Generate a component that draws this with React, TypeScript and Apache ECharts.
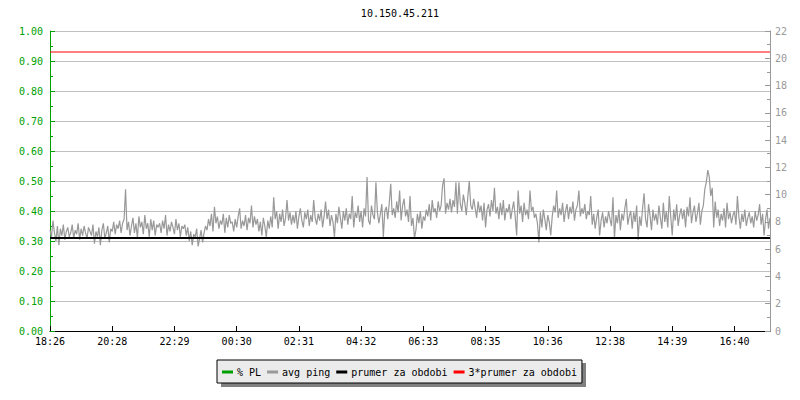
import React, { useEffect, useRef } from "react";
import * as echarts from "echarts";

const TITLE = "10.150.45.211";
const TIME_LABELS = ["18:26", "20:28", "22:29", "00:30", "02:31", "04:32", "06:33", "08:35", "10:36", "12:38", "14:39", "16:40"];
const POINTS_PER_LABEL = 42;

// avg ping (ms, right axis)
const AVG_PING = [
  7.4, 6.9, 8.1, 7.2, 6.6, 7.7, 6.3, 7.5, 7.0, 7.8, 6.7, 7.3,
  7.6, 6.9, 7.2, 7.8, 6.8, 7.4, 7.1, 7.9, 6.7, 7.5, 7.0, 7.7, 7.2, 6.8, 7.6, 7.3,
  7.0, 7.8, 6.4, 7.3, 6.9, 7.6, 6.3, 7.4, 7.9, 6.8, 7.2, 7.7, 6.5, 7.5,
  7.3, 8.0, 7.1, 7.8, 7.5, 8.1, 7.2, 7.9, 8.2, 10.4, 7.4, 8.0, 7.0, 7.7,
  8.3, 7.2, 7.9, 6.8, 8.4, 7.6, 8.0, 7.1, 8.5, 7.5, 7.9, 6.9, 8.2, 7.4, 8.1, 7.0, 7.8, 7.6,
  7.9, 7.2, 8.1, 7.5, 8.5, 7.0, 7.8, 7.3, 8.0, 7.6, 7.1, 8.2, 7.4, 7.9, 6.9, 7.7,
  7.5, 7.8, 7.0, 7.6, 6.6, 7.3, 6.3, 7.1, 6.9, 7.5, 6.2, 6.8, 7.4, 6.5, 7.2, 7.7,
  7.4, 8.2, 7.7, 8.6, 7.3, 9.1, 7.9, 8.4, 7.5, 8.1, 7.8, 8.6, 7.2, 8.3, 7.6, 8.5, 7.9,
  8.0, 7.3, 8.2, 7.6, 8.4, 9.0, 7.5, 8.1, 7.7, 8.5, 7.4, 8.3, 7.9, 9.2, 7.6, 8.4, 7.8, 8.2, 7.3, 8.0, 7.0, 8.3, 7.7, 6.9, 8.1, 7.5,
  8.4, 7.6, 9.8, 8.2, 8.8, 7.5, 8.6, 8.0, 8.9, 7.7, 8.3, 9.6, 8.1, 8.7, 7.8, 8.5,
  7.9, 8.8, 7.5, 8.4, 9.0, 8.1, 7.6, 8.7, 8.2, 8.9, 7.7, 8.5, 8.0, 9.6, 8.3, 7.8, 8.6, 8.1, 8.9, 7.6, 8.4, 9.5,
  8.2, 8.9, 7.7, 8.5, 8.0, 6.9, 8.6, 7.9, 9.1, 8.3, 7.5, 8.8, 8.1, 9.0, 7.8, 8.6, 8.2, 9.9, 7.6, 8.7, 8.3, 9.2,
  8.0, 8.8, 7.6, 9.0, 8.4, 11.3, 8.1, 7.8, 9.2, 8.5, 8.2, 10.9, 8.7, 7.9,
  8.6, 9.3, 6.9, 8.8, 9.1, 8.2, 9.4, 10.8, 8.5, 9.0, 8.3, 9.5, 8.7, 10.3, 8.1, 9.2, 9.7, 8.4,
  8.9, 8.0, 9.9, 7.7, 8.3, 6.8, 7.4, 8.6, 7.9, 8.8, 7.5, 8.4, 8.1, 8.9,
  8.4, 9.3, 8.1, 9.6, 8.7, 9.0, 8.3, 9.5, 8.8, 9.2, 10.7, 11.2, 8.6, 9.4, 8.9, 9.7,
  8.7, 9.6, 9.1, 10.9, 8.6, 10.9, 9.3, 8.8, 10.0, 9.4, 8.5, 9.8, 11.0, 9.2, 8.9, 9.7,
  9.0, 8.3, 9.5, 8.7, 9.2, 8.1, 9.4, 7.6, 8.9, 9.3, 8.4, 9.6, 8.8, 10.5, 8.6, 9.1, 8.2, 9.4,
  8.5, 9.6, 8.1, 9.0, 8.7, 9.3, 8.2, 8.9, 9.5, 8.4, 7.0,
  10.3, 8.6, 9.2, 8.0, 9.4, 8.5, 8.9, 8.2, 10.3, 8.8, 9.1, 8.3,
  8.6, 7.9, 6.5, 8.7, 7.6, 8.9, 8.2, 7.4, 8.5, 8.0, 7.0,
  8.4, 9.2, 8.7, 10.3, 8.3, 9.0, 8.5, 9.4, 8.0, 8.8, 9.3, 8.2, 9.1, 8.6, 9.5, 8.1, 8.9, 9.2, 10.3, 8.4, 9.0, 8.6, 9.3, 8.2, 8.8,
  8.5, 9.9, 7.8, 8.6, 7.5, 8.3, 8.9, 7.0, 8.1, 8.7, 7.6, 8.4, 7.9, 8.8,
  8.2, 7.7, 9.8, 6.8, 8.5, 7.9, 8.9, 7.4, 8.6, 8.1, 9.0, 9.7, 7.8, 8.4, 8.8,
  7.5, 8.7, 8.0, 9.2, 6.7, 8.4, 7.7, 9.0, 10.1, 8.2, 7.6, 9.3, 8.5, 7.4, 8.9, 8.1,
  8.6, 7.8, 9.2, 8.3, 7.5, 9.4, 8.0, 8.8, 7.6, 9.9, 8.4, 7.0, 8.9, 8.1, 9.3, 7.7, 8.5, 9.0,
  8.2, 8.9, 7.6, 9.1, 8.4, 9.8, 7.9, 8.7, 9.2, 8.0, 8.6, 9.4, 7.8, 8.8,
  9.2, 10.4, 10.9, 11.8, 11.3, 9.9, 10.5, 7.6, 9.5,
  8.3, 8.9, 7.7, 8.6, 8.1, 9.0, 7.6, 9.4, 8.2, 8.7, 7.9, 8.5, 8.8, 7.8, 9.9, 8.4, 7.5, 8.6, 8.0, 8.9, 7.7, 8.3,
  8.7, 7.9, 8.4, 7.6, 8.8, 8.1, 8.5, 9.3, 7.8, 8.6, 7.0, 8.2, 8.9, 7.5, 8.3,
];

// % packet loss (left axis): no loss in the period
const PACKET_LOSS: number[] = [];

const PRUMER = 6.82; // average for the period (ms)
const PRUMER_3X = 20.46; // 3 * average

const SERIES_NAMES = ["% PL", "avg ping", "prumer za obdobi", "3*prumer za obdobi"];

const FONT = "'DejaVu Sans Mono', 'Liberation Mono', monospace";

export default function App() {
  const ref = useRef<HTMLDivElement>(null);

  useEffect(() => {
    if (!ref.current) return;
    const chart = echarts.init(ref.current, undefined, { renderer: "svg" });
    const cats = AVG_PING.map((_, i) => String(i));
    const first = cats[0];
    const last = cats[cats.length - 1];

    chart.setOption({
      animation: false,
      backgroundColor: "#ffffff",
      title: {
        text: TITLE,
        left: "center",
        top: 3,
        textStyle: { fontFamily: FONT, fontSize: 10, fontWeight: "normal", color: "#000" },
      },
      grid: { left: 50, right: 30, top: 31, bottom: 69, containLabel: false },
      legend: {
        data: SERIES_NAMES,
        bottom: 17,
        left: 217,
        icon: "rect",
        itemWidth: 11,
        itemHeight: 3,
        itemGap: 6,
        padding: [7, 5, 6, 5],
        backgroundColor: "#ebebeb",
        borderColor: "#000",
        borderWidth: 1,
        z: 10,
        textStyle: { fontFamily: FONT, fontSize: 10, color: "#000", padding: [0, 0, 0, -1] },
      },
      graphic: [
        { type: "rect", z: 1, shape: { x: 221, y: 363, width: 365, height: 24 }, style: { fill: "#808080" } },
      ],
      xAxis: {
        type: "category",
        data: cats,
        boundaryGap: false,
        axisLine: { show: true, lineStyle: { color: "#000", width: 1 } },
        axisTick: { show: true, inside: true, length: 5, interval: POINTS_PER_LABEL - 1, lineStyle: { color: "#000" } },
        axisLabel: {
          interval: POINTS_PER_LABEL - 1,
          color: "#000",
          fontFamily: FONT,
          fontSize: 10,
          margin: 5,
          formatter: (_v: string, idx: number) => TIME_LABELS[Math.round(idx / POINTS_PER_LABEL)] ?? "",
        },
        splitLine: { show: false },
      },
      yAxis: [
        {
          type: "value",
          position: "left",
          min: 0,
          max: 1,
          interval: 0.1,
          axisLine: { show: true, lineStyle: { color: "#00a000" } },
          axisTick: { show: true, inside: true, length: 5, lineStyle: { color: "#00a000" } },
          minorTick: { show: true, splitNumber: 2, length: 3, lineStyle: { color: "#00a000" } },
          axisLabel: { color: "#00a000", fontFamily: FONT, fontSize: 10, margin: 7, formatter: (v: number) => v.toFixed(2) },
          splitLine: { show: true, lineStyle: { color: "#c0c0c0", width: 1 } },
        },
        {
          type: "value",
          position: "right",
          min: 0,
          max: 22,
          interval: 2,
          axisLine: { show: true, lineStyle: { color: "#999" } },
          axisTick: { show: true, inside: true, length: 5, lineStyle: { color: "#999" } },
          minorTick: { show: true, splitNumber: 2, length: 3, lineStyle: { color: "#999" } },
          axisLabel: { color: "#999", fontFamily: FONT, fontSize: 10, margin: 5 },
          splitLine: { show: false },
        },
      ],
      series: [
        {
          name: SERIES_NAMES[0],
          type: "line",
          yAxisIndex: 0,
          data: PACKET_LOSS,
          symbol: "none",
          color: "#00a000",
          lineStyle: { width: 1 },
        },
        {
          name: SERIES_NAMES[1],
          type: "line",
          yAxisIndex: 1,
          data: AVG_PING,
          symbol: "none",
          color: "#999999",
          lineStyle: { width: 1.2 },
          z: 2,
        },
        {
          name: SERIES_NAMES[2],
          type: "line",
          yAxisIndex: 1,
          data: [[first, PRUMER], [last, PRUMER]],
          symbol: "none",
          color: "#000000",
          lineStyle: { width: 2 },
          z: 3,
        },
        {
          name: SERIES_NAMES[3],
          type: "line",
          yAxisIndex: 1,
          data: [[first, PRUMER_3X], [last, PRUMER_3X]],
          symbol: "none",
          color: "#ff0000",
          lineStyle: { width: 1 },
          z: 4,
        },
      ],
    });

    return () => chart.dispose();
  }, []);

  return <div ref={ref} style={{ position: "fixed", left: 0, top: 0, width: 800, height: 400 }} />;
}
